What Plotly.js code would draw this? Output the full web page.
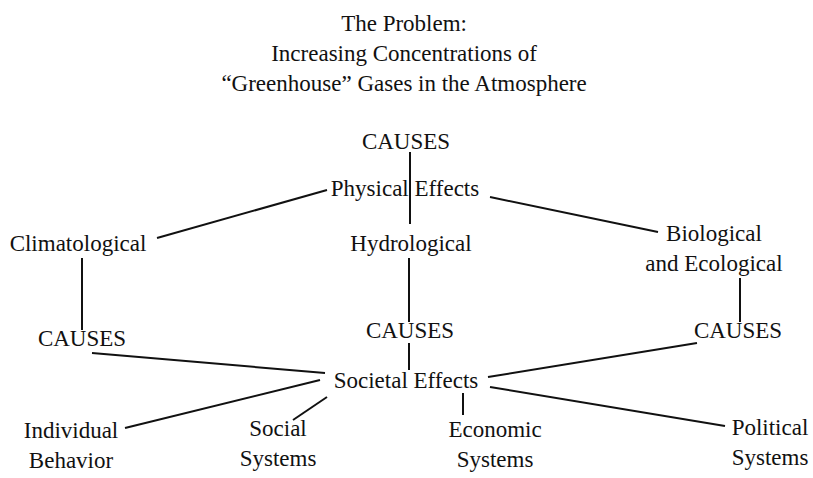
<!DOCTYPE html>
<html>
<head>
<meta charset="utf-8">
<script src="https://cdn.plot.ly/plotly-3.0.1.min.js"></script>
<style>html,body{margin:0;padding:0;background:#fff;}#chart{width:813px;height:478px;}</style>
</head>
<body>
<div id="chart"></div>
<script>
// Title lines
const titleLines = ["The Problem:", "Increasing Concentrations of", "\u201cGreenhouse\u201d Gases in the Atmosphere"];

// Diagram nodes (label, centre position in pixel-space of the drawing)
const nodeLabels = ["CAUSES", "Physical Effects", "Climatological", "Hydrological", "Biological<br>and Ecological",
                    "CAUSES", "CAUSES", "CAUSES", "Societal Effects",
                    "Individual<br>Behavior", "Social<br>Systems", "Economic<br>Systems", "Political<br>Systems"];
const nodeX = [406, 405, 78, 411, 714, 82, 410, 738, 406, 71, 278, 495, 770];
const nodeY = [143, 190, 245, 245, 250, 340, 332, 332, 382, 447, 445, 446, 444];

// Connector segments (start / end points)
const edgeX0 = [410, 409, 409, 327, 490, 82, 740, 92, 488, 490, 320, 293, 463];
const edgeY0 = [152, 258, 343, 190, 197, 258, 278, 353, 377, 387, 380, 420, 393];
const edgeX1 = [410, 409, 409, 157, 658, 82, 740, 325, 697, 725, 125, 327, 463];
const edgeY1 = [224, 322, 370, 238, 232, 330, 322, 373, 343, 426, 428, 397, 415];

const lx = [], ly = [];
for (let i = 0; i < edgeX0.length; i++) {
  lx.push(edgeX0[i], edgeX1[i], null);
  ly.push(edgeY0[i], edgeY1[i], null);
}

const FONT = "Liberation Serif, Times New Roman, serif";

const traces = [
  {type: "scatter", mode: "lines", x: lx, y: ly, hoverinfo: "skip",
   line: {color: "#111", width: 2}, showlegend: false},
  {type: "scatter", mode: "text", x: nodeX, y: nodeY, text: nodeLabels,
   textposition: "middle center", hoverinfo: "skip",
   textfont: {family: FONT, size: 23, color: "#111"}, showlegend: false}
];

const layout = {
  width: 813, height: 478,
  margin: {l: 0, r: 0, t: 0, b: 0},
  paper_bgcolor: "#fff", plot_bgcolor: "#fff",
  title: {text: titleLines.join("<br>"), x: 0.497, xanchor: "center",
          y: 0.935, yref: "container", yanchor: "top",
          font: {family: FONT, size: 23, color: "#111"}},
  xaxis: {range: [0, 813], visible: false, fixedrange: true},
  yaxis: {range: [478, 0], visible: false, fixedrange: true},
  showlegend: false
};

Plotly.newPlot("chart", traces, layout, {displayModeBar: false, staticPlot: true});
</script>
</body>
</html>
